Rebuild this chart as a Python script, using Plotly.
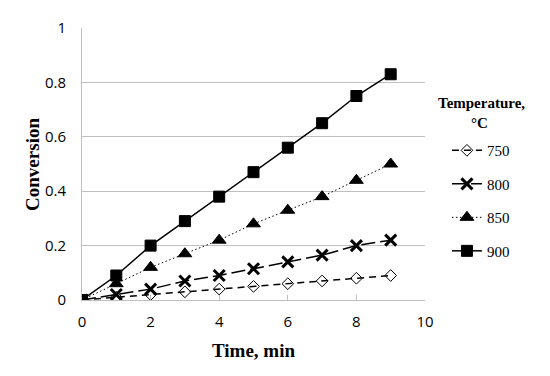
import plotly.graph_objects as go

time_min = [0, 1, 2, 3, 4, 5, 6, 7, 8, 9]
conv_750 = [0, 0.01, 0.02, 0.03, 0.04, 0.05, 0.06, 0.07, 0.08, 0.09]
conv_800 = [0, 0.02, 0.04, 0.07, 0.09, 0.115, 0.14, 0.165, 0.20, 0.22]
conv_850 = [0, 0.06, 0.12, 0.17, 0.22, 0.28, 0.33, 0.38, 0.44, 0.50]
conv_900 = [0, 0.09, 0.20, 0.29, 0.38, 0.47, 0.56, 0.65, 0.75, 0.83]
labels = ["750", "800", "850", "900"]

serif = "Liberation Serif"
sans = "Open Sans, Liberation Sans, sans-serif"

styles = [
    (conv_750, "7px,5px", 1.5, "diamond-open", 9, 1),
    (conv_800, "14px,5px", 1.5, "x-thin-open", 11, 3),
    (conv_850, "1.5px,2.5px", 1.0, "triangle-up", 12, 1),
    (conv_900, "solid", 1.5, "square", 11, 1),
]

fig = go.Figure()
for i, (vals, dash, lw, sym, sz, mlw) in enumerate(styles):
    fig.add_trace(go.Scatter(
        x=time_min, y=vals, name=labels[i], mode="lines+markers",
        line=dict(color="black", width=lw, dash=dash),
        marker=dict(symbol=sym, size=sz, color="black", line=dict(color="black", width=mlw)),
        legendgroup=labels[i],
    ))

fig.update_layout(
    width=550, height=376,
    paper_bgcolor="white", plot_bgcolor="white",
    margin=dict(l=82, r=125, t=28, b=76),
    showlegend=True,
    legend=dict(
        x=1.064, xanchor="left", y=0.61, yanchor="top",
        font=dict(family=serif, size=15, color="black"),
        traceorder="grouped", tracegroupgap=11,
        itemwidth=30,
    ),
    xaxis=dict(
        range=[0, 10], dtick=2, showgrid=False, automargin=False,
        showline=True, linecolor="#bfbfbf", linewidth=1,
        ticks="inside", tickcolor="#bfbfbf", ticklen=5,
        ticklabelstandoff=8,
        tickfont=dict(family=sans, size=15, color="black"),
        zeroline=False,
    ),
    yaxis=dict(
        range=[0, 1], dtick=0.2, showgrid=True, gridcolor="#bfbfbf", automargin=False,
        showline=True, linecolor="#bfbfbf", linewidth=1,
        ticklabelstandoff=12,
        tickfont=dict(family=sans, size=15, color="black"),
        zeroline=False,
    ),
    annotations=[
        dict(text="<b>Temperature,</b>", x=1.166, xanchor="center", y=0.724, yanchor="middle",
             xref="paper", yref="paper", showarrow=False,
             font=dict(family=serif, size=15, color="black")),
        dict(text="<b>°C</b>", x=1.16, xanchor="center", y=0.651, yanchor="middle",
             xref="paper", yref="paper", showarrow=False,
             font=dict(family=serif, size=15, color="black")),
        dict(text="<b>Time, min</b>", x=0.5, xanchor="center", y=-0.184, yanchor="middle",
             xref="paper", yref="paper", showarrow=False,
             font=dict(family=serif, size=19, color="black")),
        dict(text="<b>Conversion</b>", x=-0.146, xanchor="center", y=0.5, yanchor="middle",
             xref="paper", yref="paper", showarrow=False, textangle=-90,
             font=dict(family=serif, size=19, color="black")),
    ],
)

fig.write_html("out.html", config={"displayModeBar": False},
               post_script="document.body.style.margin='0';")
